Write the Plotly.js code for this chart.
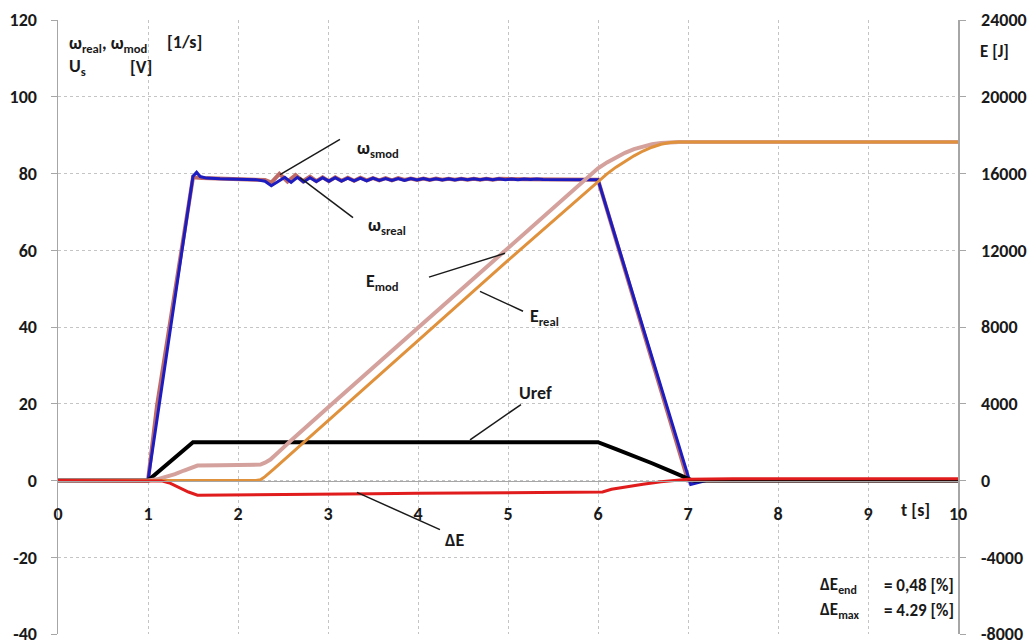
<!DOCTYPE html>
<html>
<head>
<meta charset="utf-8">
<script src="https://cdn.plot.ly/plotly-3.0.1.min.js"></script>
<style>html,body{margin:0;padding:0;background:#fff;}#chart{width:1034px;height:641px;}</style>
</head>
<body>
<div id="chart"></div>
<script>
// ---- data ----
// omega real (blue), left axis [1/s]
const tOmegaReal = [0, 1.0, 1.5, 1.54, 1.58, 1.65, 1.8, 2.0, 2.2, 2.3, 2.37, 2.45,
  2.52, 2.59, 2.66, 2.73, 2.80, 2.87, 2.94, 3.01, 3.08, 3.15, 3.22, 3.29, 3.36, 3.43,
  3.50, 3.57, 3.64, 3.71, 3.78, 3.85, 3.92, 3.99, 4.06, 4.13, 4.20, 4.27, 4.34, 4.41,
  4.48, 4.55, 4.62, 4.69, 4.76, 4.83, 4.90, 4.97, 5.04, 5.11, 5.18, 5.25, 5.32, 5.39,
  5.6, 6.0, 7.03, 7.2, 10];
const omegaReal = [0, 0, 79.3, 80.3, 79.2, 78.8, 78.6, 78.5, 78.4, 78.0, 76.8, 78.0,
  79.0, 77.7, 79.0, 77.8, 78.9, 77.9, 78.9, 78.0, 78.9, 78.0, 78.8, 78.1, 78.8, 78.1,
  78.8, 78.2, 78.7, 78.2, 78.7, 78.2, 78.7, 78.3, 78.7, 78.3, 78.6, 78.3, 78.6, 78.3,
  78.6, 78.4, 78.6, 78.4, 78.6, 78.4, 78.6, 78.4, 78.55, 78.4, 78.55, 78.45, 78.55, 78.45,
  78.5, 78.4, -1.0, 0, 0];
// omega mod (rosy), left axis [1/s]
const tOmegaMod = [0, 1.0, 1.1, 1.5, 1.6, 1.8, 2.0, 2.2, 2.3, 2.37, 2.46, 2.55, 2.64,
  2.72, 2.80, 2.87, 2.94, 3.01, 3.08, 3.15, 3.22, 3.29, 3.36, 3.43, 3.50, 3.57, 3.64,
  3.71, 3.78, 3.85, 3.92, 3.99, 4.06, 4.13, 4.20, 4.27, 4.34, 4.41, 4.48, 4.55, 4.62,
  4.69, 4.76, 4.83, 4.90, 5.2, 5.6, 6.0, 7.0, 10];
const omegaMod = [0, 0, 19.5, 79.0, 78.8, 78.6, 78.5, 78.4, 78.3, 77.6, 79.9, 77.9, 79.6,
  78.0, 79.2, 78.0, 79.0, 78.0, 79.0, 78.1, 78.9, 78.1, 78.9, 78.2, 78.8, 78.2, 78.8,
  78.2, 78.8, 78.3, 78.7, 78.3, 78.7, 78.3, 78.7, 78.4, 78.6, 78.4, 78.6, 78.4, 78.6,
  78.4, 78.6, 78.4, 78.6, 78.5, 78.5, 78.4, 0, 0];
// Uref (black), left axis [V]
const tUref = [0, 1.0, 1.5, 6.0, 6.2, 6.4, 6.6, 6.8, 7.0, 7.05, 10];
const uref = [0, 0, 10, 10, 8.2, 6.4, 4.5, 2.5, 0.5, 0, 0];
// E mod (pink), right axis [J]
const tEmod = [0, 1.0, 1.1, 1.2, 1.3, 1.4, 1.5, 1.55, 1.8, 2.0, 2.2, 2.25, 2.3, 2.36,
  2.45, 2.58, 3.0, 4.0, 5.0, 6.0, 6.1, 6.2, 6.3, 6.4, 6.5, 6.6, 6.7, 6.8, 6.9, 10];
const eMod = [0, 0, 60, 170, 330, 520, 730, 780, 790, 790, 800, 830, 930, 1090,
  1480, 2050, 3800, 7960, 12110, 16270, 16580, 16850, 17080, 17270, 17410, 17520, 17590, 17630, 17640, 17640];
// E real (orange), right axis [J]
const tEreal = [0, 2.2, 2.25, 2.3, 2.4, 2.5, 2.6, 2.74, 3.0, 4.0, 5.0, 6.0, 6.1, 6.2,
  6.3, 6.4, 6.5, 6.6, 6.7, 6.8, 6.9, 10];
const eReal = [0, 0, 40, 200, 600, 1020, 1430, 2030, 3110, 7290, 11470, 15600, 15980, 16330,
  16640, 16920, 17170, 17370, 17520, 17610, 17640, 17640];
// Delta E (red), right axis [J]
const tDeltaE = [0, 1.0, 1.15, 1.25, 1.35, 1.45, 1.55, 2.0, 2.5, 3.0, 3.5, 4.0, 4.5, 5.0,
  5.5, 6.0, 6.05, 6.15, 6.3, 6.5, 6.7, 6.9, 7.0, 7.5, 10];
const deltaE = [0, 0, -20, -150, -380, -600, -766, -740, -710, -690, -685, -670, -660, -650,
  -640, -630, -600, -460, -340, -190, -60, 40, 70, 85, 85];

const xTicks = [0, 1, 2, 3, 4, 5, 6, 7, 8, 9, 10];
const yLeftTicks = [-40, -20, 0, 20, 40, 60, 80, 100, 120];
const yRightTicks = [-8000, -4000, 0, 4000, 8000, 12000, 16000, 20000, 24000];

// ---- chart ----
const FONT = 'Carlito, Lato, "Open Sans", sans-serif';
const TXT = '#1a1a1a';
const bold = (size) => ({family: FONT, size: size, color: TXT, weight: 'bold'});
const traces = [
  {x: tOmegaMod, y: omegaMod, yaxis: 'y', mode: 'lines', line: {color: '#bf6a66', width: 4}, name: 'ωmod'},
  {x: tOmegaReal, y: omegaReal, yaxis: 'y', mode: 'lines', line: {color: '#1c1cc0', width: 3}, name: 'ωreal'},
  {x: tUref, y: uref, yaxis: 'y', mode: 'lines', line: {color: '#000000', width: 4}, name: 'Uref'},
  {x: tEmod, y: eMod, yaxis: 'y2', mode: 'lines', line: {color: '#d4a19c', width: 4}, name: 'Emod'},
  {x: tEreal, y: eReal, yaxis: 'y2', mode: 'lines', line: {color: '#e0913c', width: 3}, name: 'Ereal'},
  {x: tDeltaE, y: deltaE, yaxis: 'y2', mode: 'lines', line: {color: '#e01c1c', width: 3}, name: 'ΔE'}
];

const lbl = (text, x, y, size) => ({text: text, x: x, y: y, xref: 'x', yref: 'y',
  showarrow: false, xanchor: 'center', yanchor: 'middle', font: bold(size || 17)});
const plbl = (text, x, y, size, xanchor) => ({text: text, x: x, y: y, xref: 'paper', yref: 'paper',
  showarrow: false, xanchor: xanchor || 'left', yanchor: 'middle', font: bold(size || 17)});

const leader = (x0, y0, x1, y1) => ({type: 'line', xref: 'x', yref: 'y', x0: x0, y0: y0, x1: x1, y1: y1,
  line: {color: TXT, width: 1.5}});

const layout = {
  width: 1034, height: 641,
  margin: {l: 58, r: 76, t: 20, b: 7},
  paper_bgcolor: '#ffffff', plot_bgcolor: '#ffffff',
  showlegend: false,
  font: {family: FONT, size: 17, color: TXT},
  xaxis: {
    range: [0, 10], tickvals: xTicks, ticktext: xTicks.map(String),
    anchor: 'free', position: 0.25,
    showline: true, linecolor: '#a6a6a6', linewidth: 1.5,
    showgrid: true, gridcolor: '#c4c4c4', griddash: 'dot', gridwidth: 1,
    zeroline: false, ticks: '', ticklabelstandoff: 16, ticklabeloverflow: 'allow',
    tickfont: bold(18)
  },
  yaxis: {
    range: [-40, 120], tickvals: yLeftTicks, ticktext: yLeftTicks.map(String),
    showline: true, linecolor: '#a6a6a6', linewidth: 1.5,
    showgrid: true, gridcolor: '#c4c4c4', griddash: 'dot', gridwidth: 1,
    zeroline: false, ticks: 'outside', ticklen: 6, tickcolor: '#a6a6a6',
    ticklabelstandoff: 10, ticklabeloverflow: 'allow',
    tickfont: bold(18)
  },
  yaxis2: {
    range: [-8000, 24000], tickvals: yRightTicks, ticktext: yRightTicks.map(String),
    overlaying: 'y', side: 'right', anchor: 'x',
    showline: true, linecolor: '#a6a6a6', linewidth: 1.5,
    showgrid: false, zeroline: false, ticks: 'outside', ticklen: 6, tickcolor: '#a6a6a6',
    ticklabelstandoff: 12, ticklabeloverflow: 'allow',
    tickfont: bold(18)
  },
  shapes: [
    leader(2.467, 79.7, 3.133, 88.9),
    leader(2.689, 78.9, 3.278, 68.5),
    leader(4.122, 53.0, 4.967, 59.2),
    leader(4.689, 49.3, 5.167, 44.1),
    leader(4.578, 10.6, 5.144, 19.8),
    leader(3.322, -3.1, 4.244, -12.8)
  ],
  annotations: [
    lbl('ω<sub>smod</sub>', 3.556, 86.3, 18),
    lbl('ω<sub>sreal</sub>', 3.656, 66.2, 18),
    lbl('E<sub>mod</sub>', 3.611, 51.6, 18),
    lbl('E<sub>real</sub>', 5.411, 42.5, 18),
    lbl('Uref', 5.311, 22.9, 18),
    lbl('ΔE', 4.411, -15.6, 18),
    lbl('t [s]', 9.533, -7.6, 18),
    plbl('ω<sub>real</sub>, ω<sub>mod</sub>', 0.010, 0.961, 18),
    plbl('[1/s]', 0.119, 0.964, 18),
    plbl('U<sub>s</sub>', 0.010, 0.9235, 18),
    plbl('[V]', 0.0778, 0.9235, 18),
    plbl('E [J]', 1.041, 0.948, 17, 'center'),
    plbl('ΔE<sub>end</sub>', 0.8444, 0.0798, 17),
    plbl('= 0,48 [%]', 0.9978, 0.0798, 17, 'right'),
    plbl('ΔE<sub>max</sub>', 0.8444, 0.0375, 17),
    plbl('= 4.29 [%]', 0.9978, 0.0375, 17, 'right')
  ]
};

Plotly.newPlot('chart', traces, layout, {displayModeBar: false, staticPlot: true});
</script>
</body>
</html>
